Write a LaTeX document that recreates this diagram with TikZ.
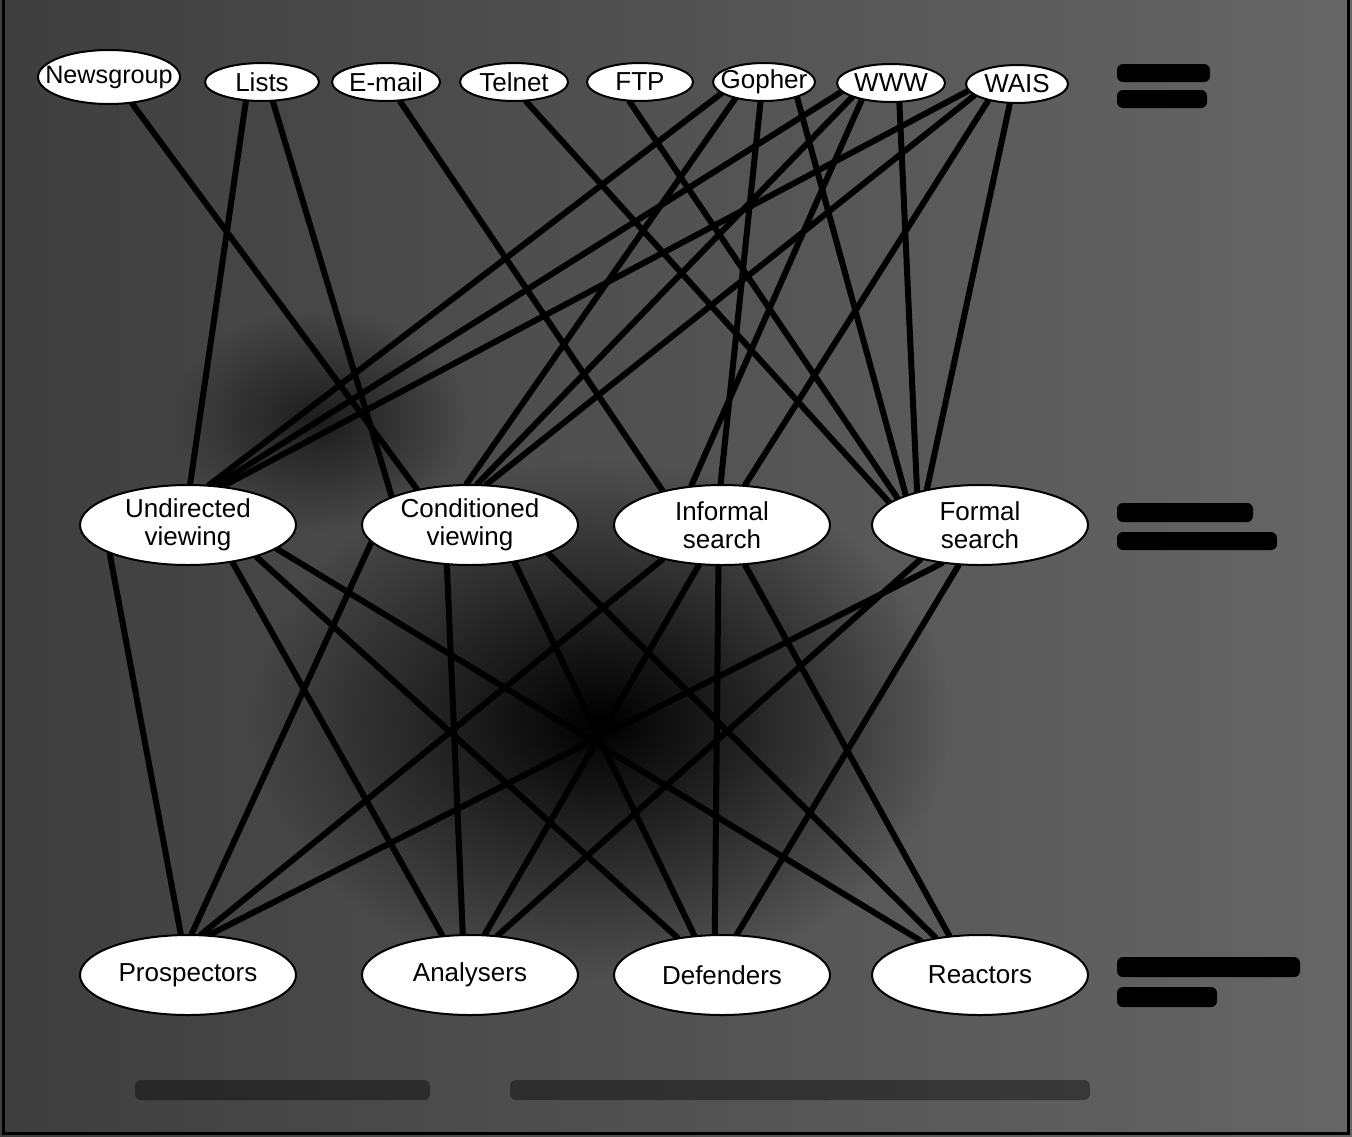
\documentclass[tikz,border=0pt]{standalone}
\usepackage{fontspec}
\setmainfont{Liberation Sans}
\usetikzlibrary{shapes.geometric,fadings}
\pgfdeclarelayer{bg}
\pgfdeclarelayer{edges}
\pgfsetlayers{bg,edges,main}
\definecolor{bgL}{HTML}{3E3E3E}
\definecolor{bgR}{HTML}{666666}
\tikzfading[name=hazefade, inner color=transparent!0, outer color=transparent!100]
\tikzset{
  oval/.style={ellipse, draw=black, line width=1pt, fill=white, inner sep=0pt},
  topoval/.style={oval, minimum height=19pt},
  midoval/.style={oval, minimum width=108pt, minimum height=40pt},
  lbl/.style={inner sep=0pt, align=center, font=\fontsize{13}{14}\selectfont},
  conn/.style={line width=3pt, black, line cap=round},
  blob/.style={fill=black, rounded corners=3pt},
}
\begin{document}
\begin{tikzpicture}[x=0.5pt,y=-0.5pt]
\useasboundingbox (0,0) rectangle (1352,1136);
% ---- top row: Internet tools
\node[topoval, minimum width=71pt, minimum height=27pt] (news) at (109,77) {};
\node[topoval, minimum width=57pt] (lists)  at (262,82) {};
\node[topoval, minimum width=54pt] (email)  at (386,82) {};
\node[topoval, minimum width=54pt] (telnet) at (514,82) {};
\node[topoval, minimum width=53pt] (ftp)    at (640,82) {};
\node[topoval, minimum width=51pt] (gopher) at (764,82) {};
\node[topoval, minimum width=54pt] (www)    at (891,83) {};
\node[topoval, minimum width=51pt] (wais)   at (1017,84) {};
\node[lbl, font=\fontsize{12.6}{14}\selectfont] (newsT) at (news) {Newsgroup};
\node[lbl] (listsT)  at (lists)  {Lists};
\node[lbl] (emailT)  at (email)  {E-mail};
\node[lbl] (telnetT) at (telnet) {Telnet};
\node[lbl] (ftpT)    at (ftp)    {FTP};
\node[lbl] (gopherT) at (gopher) {Gopher};
\node[lbl] (wwwT)    at (www)    {WWW};
\node[lbl] (waisT)   at (wais)   {WAIS};
% ---- middle row: scanning modes
\node[midoval] (undir) at (188,525) {};
\node[midoval] (cond)  at (470,525) {};
\node[midoval] (inf)   at (722,525) {};
\node[midoval] (form)  at (980,525) {};
\node[lbl] (undirT) at (undir) {Undirected\\viewing};
\node[lbl] (condT)  at (cond)  {Conditioned\\viewing};
\node[lbl] (infT)   at (inf)   {Informal\\search};
\node[lbl] (formT)  at (form)  {Formal\\search};
% ---- bottom row: strategies
\node[midoval] (pros) at (188,975) {};
\node[midoval] (anal) at (470,975) {};
\node[midoval] (def)  at (722,975) {};
\node[midoval] (reac) at (980,975) {};
\node[lbl] (prosT) at (pros) {Prospectors};
\node[lbl] (analT) at (anal) {Analysers};
\node[lbl] (defT)  at (def)  {Defenders};
\node[lbl] (reacT) at (reac) {Reactors};

\begin{pgfonlayer}{bg}
  \shade[left color=bgL, right color=bgR] (0,0) rectangle (1352,1136);
  \fill[black, fill opacity=1, path fading=hazefade] (600,720) ellipse [x radius=175pt, y radius=130pt];
  \fill[black, fill opacity=0.6, path fading=hazefade] (320,420) ellipse [x radius=75pt, y radius=55pt];
  % illegible side captions
  \fill[blob] (1117,64) rectangle (1210,82);
  \fill[blob] (1117,90) rectangle (1207,108);
  \fill[blob] (1117,503) rectangle (1253,522);
  \fill[blob] (1117,532) rectangle (1277,550);
  \fill[blob] (1117,957) rectangle (1300,977);
  \fill[blob] (1117,987) rectangle (1217,1007);
  \fill[black, opacity=0.4, rounded corners=3pt] (135,1080) rectangle (430,1100);
  \fill[black, opacity=0.4, rounded corners=3pt] (510,1080) rectangle (1090,1100);
  % frame
  \draw[line width=1.5pt] (3,-5) -- (3,1133) -- (1348,1133) -- (1348,-5);
\end{pgfonlayer}

\begin{pgfonlayer}{edges}
\foreach \s/\t in {
  news.-49/cond.146, lists.-130/undir.87, lists.-61/cond.160,
  email.-54/inf.150, telnet.-58/form.166, ftp.-118/form.162,
  gopher.-165/undir.62, gopher.-150/cond.95, gopher.-100/inf.92, gopher.-25/form.158,
  www.-170/undir.55, www.-160/cond.80, www.-150/inf.128, www.-67/form.152,
  wais.-172/undir.48, wais.-165/cond.68, wais.-150/inf.60, wais.-110/form.146,
  undir.-160/pros.100, undir.-40/anal.125, undir.-25/def.140, undir.-15/reac.150,
  cond.-170/pros.85, cond.-120/anal.100, cond.-40/def.125, cond.-20/reac.140,
  inf.-150/pros.72, inf.-120/anal.70, inf.-95/def.100, inf.-60/reac.128,
  form.-135/pros.62, form.-150/anal.55, form.-118/def.70}
  \draw[conn] (\s) -- (\t);
\end{pgfonlayer}
\end{tikzpicture}
\end{document}
